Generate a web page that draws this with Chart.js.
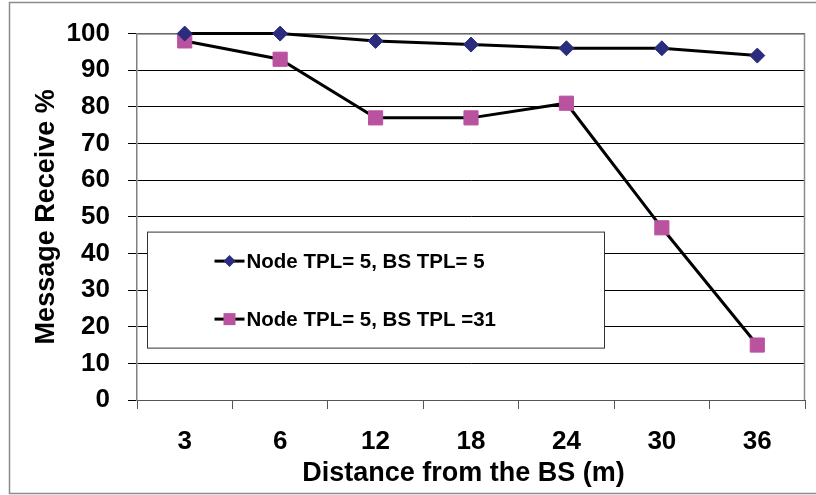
<!DOCTYPE html>
<html>
<head>
<meta charset="utf-8">
<script src="https://cdn.jsdelivr.net/npm/chart.js@4"></script>
<style>
  html, body { margin: 0; padding: 0; background: #fff; }
  #wrap { width: 816px; height: 495px; }
</style>
</head>
<body>
<div id="wrap"><canvas id="chart-receive" width="816" height="495"></canvas></div>
<script>
const distances = ['3', '6', '12', '18', '24', '30', '36'];
const receiveTpl5 = [100, 100, 98, 97, 96, 96, 94];
const receiveTpl31 = [98, 93, 77, 77, 81, 47, 15];
const seriesNames = ['Node TPL= 5, BS TPL= 5', 'Node TPL= 5, BS TPL =31'];
const yTicks = [0, 10, 20, 30, 40, 50, 60, 70, 80, 90, 100];

const FONT = 'Arial, "Liberation Sans", sans-serif';
const chartContext = document.getElementById('chart-receive');

// frame, plot border and the boxed legend inside the plot
const framePlugin = {
    id: 'frame',
    beforeDraw(chart) {
        const ctx = chart.ctx;
        ctx.save();
        ctx.fillStyle = '#fff';
        ctx.fillRect(0, 0, chart.width, chart.height);
        ctx.strokeStyle = '#8c8c8c';
        ctx.lineWidth = 1.5;
        ctx.beginPath();
        ctx.moveTo(830, 2.5);
        ctx.lineTo(9.5, 2.5);
        ctx.lineTo(9.5, 493.5);
        ctx.lineTo(830, 493.5);
        ctx.stroke();
        ctx.restore();
    },
    beforeDatasetsDraw(chart) {
        const ctx = chart.ctx;
        const a = chart.chartArea;
        ctx.save();
        ctx.strokeStyle = '#8c8c8c';
        ctx.lineWidth = 1.5;
        ctx.beginPath();
        ctx.moveTo(a.left, a.top + 0.5);
        ctx.lineTo(a.right - 0.5, a.top + 0.5);
        ctx.lineTo(a.right - 0.5, a.bottom);
        ctx.stroke();
        ctx.restore();
    },
    afterDatasetsDraw(chart) {
        const ctx = chart.ctx;
        const a = chart.chartArea;
        ctx.save();
        // legend box
        const bx = a.left + 10.5, by = a.top + 198.5, bw = 457, bh = 116;
        ctx.fillStyle = '#fff';
        ctx.fillRect(bx, by, bw, bh);
        ctx.strokeStyle = '#333';
        ctx.lineWidth = 1;
        ctx.strokeRect(bx, by, bw, bh);

        const rows = [by + 29, by + 87];
        chart.data.datasets.forEach((ds, i) => {
            const y = rows[i];
            ctx.strokeStyle = '#000';
            ctx.lineWidth = 3;
            ctx.beginPath();
            ctx.moveTo(bx + 67, y);
            ctx.lineTo(bx + 97, y);
            ctx.stroke();
            ctx.fillStyle = ds.pointBackgroundColor;
            if (ds.pointStyle === 'rectRot') {
                ctx.beginPath();
                ctx.moveTo(bx + 82 - 6, y);
                ctx.lineTo(bx + 82, y - 6);
                ctx.lineTo(bx + 82 + 6, y);
                ctx.lineTo(bx + 82, y + 6);
                ctx.closePath();
                ctx.fill();
            } else {
                ctx.fillRect(bx + 82 - 6, y - 6, 12, 12);
            }
            ctx.fillStyle = '#000';
            ctx.font = 'bold 20.5px ' + FONT;
            ctx.textBaseline = 'middle';
            ctx.textAlign = 'left';
            ctx.fillText(ds.label, bx + 99, y + 1);
        });
        ctx.restore();
    }
};

const receiveData = {
    labels: distances,
    datasets: [{
        label: seriesNames[0],
        data: receiveTpl5,
        clip: false,
        borderColor: '#000',
        borderWidth: 3,
        pointStyle: 'rectRot',
        pointRadius: 7.5,
        pointHoverRadius: 7.5,
        pointBackgroundColor: '#2b2c7d',
        pointBorderColor: '#2b2c7d',
        pointBorderWidth: 1,
        tension: 0
    }, {
        label: seriesNames[1],
        data: receiveTpl31,
        clip: false,
        borderColor: '#000',
        borderWidth: 3,
        pointStyle: 'rect',
        pointRadius: 10,
        pointHoverRadius: 10,
        pointBackgroundColor: '#b9529f',
        pointBorderColor: '#b9529f',
        pointBorderWidth: 1,
        tension: 0
    }]
};

const configReceiveChart = {
    type: 'line',
    data: receiveData,
    options: {
        responsive: false,
        animation: false,
        layout: { padding: { left: 0, top: 33, right: 9, bottom: 0 } },
        plugins: {
            legend: { display: false },
            tooltip: { enabled: false }
        },
        scales: {
            x: {
                type: 'category',
                offset: true,
                border: { color: '#555', width: 1 },
                grid: { offset: true, drawOnChartArea: false, tickLength: 9, color: '#555' },
                ticks: { color: '#000', padding: 17, font: { family: FONT, size: 26, weight: 'bold' } },
                title: {
                    display: true,
                    text: 'Distance from the BS (m)  ',
                    color: '#000',
                    font: { family: FONT, size: 27, weight: 'bold' },
                    padding: { top: 0, bottom: 5 }
                },
                afterFit(scale) { scale.height = 95; }
            },
            y: {
                min: 0,
                max: 100,
                border: { color: '#808080', width: 1.5 },
                grid: { color: '#000', lineWidth: 1, tickLength: 9, tickColor: '#000' },
                afterBuildTicks(scale) { scale.ticks = yTicks.map(v => ({ value: v })); },
                ticks: { color: '#000', padding: 18, font: { family: FONT, size: 26, weight: 'bold' } },
                title: {
                    display: true,
                    text: 'Message Receive %',
                    color: '#000',
                    font: { family: FONT, size: 27, weight: 'bold' },
                    padding: { top: 30, bottom: 0 }
                },
                afterFit(scale) { scale.width = 137; }
            }
        }
    },
    plugins: [framePlugin]
};

var chartReceive = new Chart(chartContext, configReceiveChart);
</script>
</body>
</html>
